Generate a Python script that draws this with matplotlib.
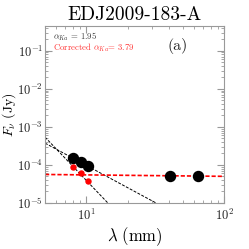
import numpy as np
import matplotlib
matplotlib.use("Agg")
import matplotlib.pyplot as plt

plt.rcParams['font.family'] = 'serif'
plt.rcParams['font.serif'] = ['cmr10']
plt.rcParams['mathtext.fontset'] = 'cm'
plt.rcParams['axes.formatter.use_mathtext'] = True

# observed fluxes (mm, Jy)
wl_obs = [8.0, 9.05, 10.2, 40.6, 64.5]
flux_obs = [1.49e-4, 1.17e-4, 0.92e-4, 5.1e-5, 5.0e-5]

# free-free corrected Ka fluxes
wl_corr = [8.0, 9.05, 10.2]
flux_corr = [9.0e-5, 6.1e-5, 3.7e-5]

# fits
alpha_ka = 1.95
alpha_corr = 3.79
ff_ends = [5.6e-5, 5.0e-5]   # free-free line at 5 and 100 mm

fig = plt.figure(figsize=(2.49, 2.49), dpi=100)
ax = fig.add_axes([0.181, 0.185, 0.719, 0.711])

lam = np.logspace(np.log10(5), 2, 200)
ax.plot(lam, flux_obs[0] * (lam / wl_obs[0]) ** (-alpha_ka), color='black', ls='--', lw=0.7, dashes=(3, 1.5))
ax.plot(lam, flux_corr[0] * (lam / wl_corr[0]) ** (-alpha_corr), color='black', ls='--', lw=0.7, dashes=(3, 1.5))
ax.plot([5, 100], ff_ends, color='red', ls='--', lw=1.2, dashes=(2.5, 1.2))

ax.plot(wl_obs, flux_obs, 'o', color='black', ms=7.2, zorder=5)
ax.plot(wl_corr, flux_corr, 'o', color='red', ms=3.6, zorder=6)

ax.set_xscale('log')
ax.set_yscale('log')
ax.set_xlim(5, 100)
ax.set_ylim(1e-5, 0.45)

for s in ax.spines.values():
    s.set_color('#999999')
ax.tick_params(which='both', direction='in', top=True, right=True, color='#999999', labelsize=9, labelcolor='#222222')
ax.tick_params(which='major', length=5)
ax.tick_params(axis='y', which='major', pad=1.5)
ax.tick_params(which='minor', length=2.5)

ax.set_xlabel(r'$\lambda\ \mathrm{(mm)}$', fontsize=12, labelpad=2)
ax.set_ylabel(r'$F_\nu\ \mathrm{(Jy)}$', fontsize=10)
ax.yaxis.set_label_coords(-0.15, 0.5)
ax.set_title('EDJ2009-183-A', fontsize=14, pad=4)

ax.text(0.045, 0.94, r'$\alpha_{Ka}$ = 1.95', transform=ax.transAxes, fontsize=6.3, color='#333333', va='center')
ax.text(0.045, 0.875, r'Corrected $\alpha_{Ka}$= 3.79', transform=ax.transAxes, fontsize=6.3, color='#ff3333', va='center')
ax.text(0.74, 0.885, '(a)', transform=ax.transAxes, fontsize=11.5, ha='center', va='center', color='#222222')

fig.savefig('out.png', dpi=100)
